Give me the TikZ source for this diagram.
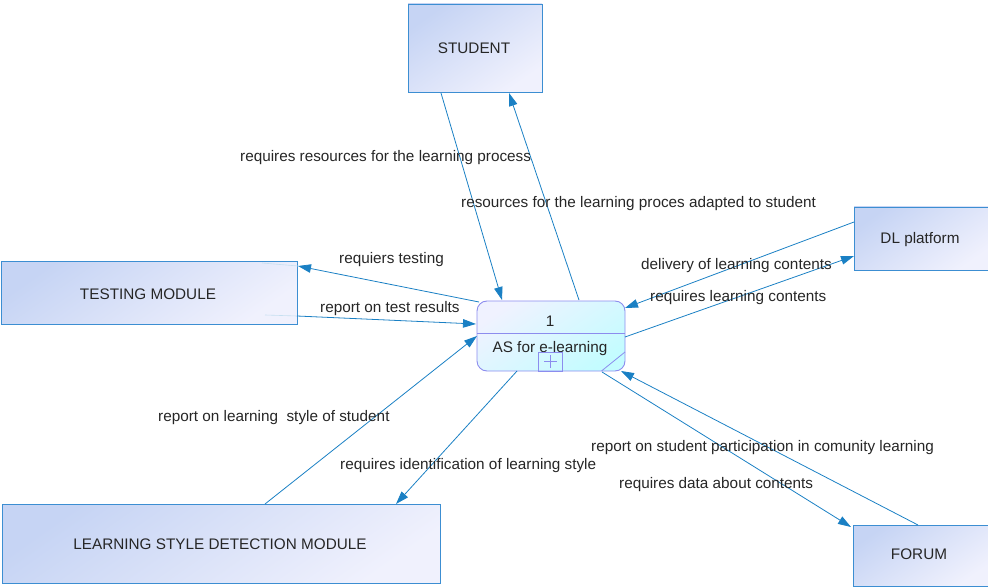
\documentclass[tikz,border=0pt]{standalone}
\usepackage{fontspec}
\setmainfont{Liberation Sans}
\usetikzlibrary{arrows.meta}
\definecolor{boxA}{HTML}{C6D4F4}
\definecolor{boxB}{HTML}{F0F1FD}
\definecolor{boxline}{HTML}{3C8ED2}
\definecolor{procA}{HTML}{F0F2FF}
\definecolor{procB}{HTML}{C4FCFF}
\definecolor{procline}{HTML}{8C8CEE}
\definecolor{conn}{HTML}{1A80C4}
\tikzset{
  ext/.style={draw=boxline, line width=0.9pt, top color=boxA, bottom color=boxB, shading angle=35, inner sep=0pt},
  txt/.style={font=\fontsize{15.3}{17}\selectfont, text=black!85, inner sep=0pt},
  lbl/.style={font=\fontsize{15.3}{17}\selectfont, text=black!85, inner sep=0pt, anchor=west},
  flow/.style={draw=conn, line width=0.8pt, -{Triangle[length=13pt,width=8.5pt]}},
  faint/.style={draw=conn!25, line width=0.6pt}
}
\begin{document}
\begin{tikzpicture}[x=1pt,y=-1pt]
\useasboundingbox (0,0) rectangle (988,588);
% external entities
\node[ext, minimum width=134, minimum height=88] (student) at (475,48) {};
\node[txt] at (474,48) {STUDENT};
\node[ext, minimum width=296, minimum height=63] (testing) at (149,292.5) {};
\node[txt] at (148,294) {TESTING MODULE};
\node[ext, minimum width=136, minimum height=63] (dl) at (922,238.5) {};
\node[txt] at (920,239.5) {DL platform};
\node[ext, minimum width=136, minimum height=61] (forum) at (921,555.5) {};
\node[txt] at (919,554) {FORUM};
\node[ext, minimum width=438, minimum height=79] (lsd) at (221,543.5) {};
\node[txt] at (220,544) {LEARNING STYLE DETECTION MODULE};
% process
\node[draw=procline, line width=0.9pt, rounded corners=10pt, top color=procA, bottom color=procB, shading angle=35, minimum width=148, minimum height=70, inner sep=0pt] (proc) at (551,336) {};
\draw[procline, line width=0.8pt] (477,333) -- (625,333);
\node[txt] at (550,321) {1};
\node[txt] at (550,348.5) {AS for e-learning};
\node[draw=procline, line width=0.8pt, minimum width=24, minimum height=19, inner sep=0pt] (plus) at (550.5,361.5) {};
\draw[procline, line width=0.8pt] (544,361.5) -- (557,361.5) (550.5,355) -- (550.5,368);
\draw[procline, line width=0.8pt] (601.5,371) -- (625,352);
% connector end points
\coordinate (s1) at (441,93);   \coordinate (p1) at (502,300);
\coordinate (p2) at (579,300);  \coordinate (s2) at (509,93);
\coordinate (p3) at (479,302);  \coordinate (t3) at (298,266);
\coordinate (t4) at (297,316);  \coordinate (p4) at (476,324);
\coordinate (d5) at (854,222);  \coordinate (p5) at (625,308);
\coordinate (p6) at (625,337);  \coordinate (d6) at (854,256);
\coordinate (l7) at (265,504);  \coordinate (p7) at (477,336);
\coordinate (p8) at (517,371);  \coordinate (l8) at (396,504);
\coordinate (p9) at (602,372);  \coordinate (f9) at (851,527);
\coordinate (f10) at (918,525); \coordinate (p10) at (621,371);
\coordinate (ti3) at (262,263); \coordinate (ti4) at (265,315);
% faint continuations inside testing module
\draw[faint] (ti3) -- (t3);
\draw[faint] (ti4) -- (t4);
% connectors
\draw[flow] (s1) -- (p1);
\draw[flow] (p2) -- (s2);
\draw[flow] (p3) -- (t3);
\draw[flow] (t4) -- (p4);
\draw[flow] (d5) -- (p5);
\draw[flow] (p6) -- (d6);
\draw[flow] (l7) -- (p7);
\draw[flow] (p8) -- (l8);
\draw[flow] (p9) -- (f9);
\draw[flow] (f10) -- (p10);
% labels
\node[lbl] at (240,158) {requires resources for the learning process};
\node[lbl] at (461,204) {resources for the learning proces adapted to student};
\node[lbl] at (339,260) {requiers testing};
\node[lbl] at (320,309) {report on test results};
\node[lbl] at (641,266) {delivery of learning contents};
\node[lbl] at (650,298) {requires learning contents};
\node[lbl] at (158,418) {report on learning\ \ style of student};
\node[lbl] at (340,466) {requires identification of learning style};
\node[lbl] at (591,448) {report on student participation in comunity learning};
\node[lbl] at (619,485) {requires data about contents};
\end{tikzpicture}
\end{document}
